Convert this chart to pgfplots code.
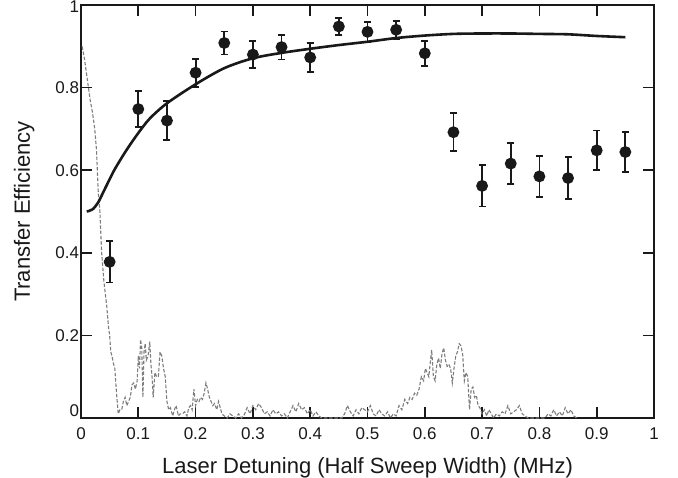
\documentclass[border=0pt]{standalone}
\usepackage{pgfplots}
\pgfplotsset{compat=1.18}
\usepackage{fontspec}
\setmainfont{Liberation Sans}
\definecolor{dashgray}{RGB}{125,125,125}
\definecolor{ink}{RGB}{25,25,25}
\begin{document}
\begin{tikzpicture}[x=1pt,y=1pt]
\path[use as bounding box] (-81,-60) rectangle (597,418);
\begin{axis}[
  at={(0,0)}, anchor=south west,
  scale only axis, width=573pt, height=413pt,
  xmin=0, xmax=1, ymin=0, ymax=1,
  xtick={0,0.1,...,1}, ytick={0,0.2,...,1},
  xticklabels={0,0.1,0.2,0.3,0.4,0.5,0.6,0.7,0.8,0.9,1},
  yticklabels={{\raisebox{7pt}[\height][0pt]{0}},0.2,0.4,0.6,0.8,{\raisebox{-2pt}[\height][0pt]{1}}},
  tick align=inside, major tick length=11pt,
  tick style={line width=1.6pt, color=ink},
  axis line style={line width=1.8pt, color=ink},
  /pgf/number format/assume math mode=true,
  ticklabel style={font=\fontsize{17}{17}\selectfont, text=ink},
  xticklabel style={yshift=-6pt},
  yticklabel style={xshift=1.5pt},
  xlabel={Laser Detuning (Half Sweep Width) (MHz)},
  ylabel={Transfer Efficiency},
  label style={font=\fontsize{22}{22}\selectfont, text=ink},
  xlabel style={yshift=-11pt},
  ylabel style={yshift=14pt},
  clip=false,
]
\addplot[dashgray, line width=1.1pt, dash pattern=on 3.5pt off 1.8pt] coordinates {
(0.002,0.90)(0.006,0.87)(0.010,0.83)(0.013,0.80)(0.016,0.77)(0.020,0.74)(0.024,0.70)(0.027,0.65)
(0.030,0.55)(0.033,0.50)(0.036,0.40)(0.040,0.33)(0.045,0.27)(0.048,0.22)(0.050,0.20)(0.052,0.16)
(0.054,0.15)(0.057,0.13)(0.059,0.12)(0.062,0.06)(0.065,0.01)(0.068,0.02)(0.071,0.02)(0.074,0.04)
(0.077,0.05)(0.080,0.03)(0.083,0.04)(0.086,0.05)(0.089,0.08)(0.092,0.085)(0.095,0.07)(0.098,0.09)
(0.100,0.15)(0.102,0.12)(0.104,0.19)(0.106,0.17)(0.108,0.05)(0.110,0.16)(0.112,0.18)(0.114,0.14)
(0.117,0.15)(0.120,0.185)(0.122,0.13)(0.124,0.10)(0.126,0.05)(0.129,0.11)(0.132,0.10)(0.135,0.10)
(0.138,0.16)(0.141,0.15)(0.144,0.12)(0.147,0.10)(0.150,0.04)(0.153,0.02)(0.156,0.025)(0.160,0.005)
(0.163,0.02)(0.166,0.03)(0.170,0.005)(0.173,0.01)(0.177,0.01)(0.181,0.015)(0.185,0.005)(0.188,0.025)
(0.191,0.03)(0.194,0.02)(0.197,0.07)(0.200,0.03)(0.203,0.045)(0.206,0.04)(0.209,0.05)(0.212,0.045)
(0.215,0.06)(0.218,0.085)(0.221,0.07)(0.224,0.05)(0.227,0.04)(0.230,0.03)(0.233,0.035)(0.237,0.02)
(0.240,0.04)(0.243,0.025)(0.246,0.01)(0.250,0.005)(0.255,0.0)(0.26,0.01)(0.265,0.005)(0.27,0.0)
(0.275,0.01)(0.28,0.0)(0.285,0.008)(0.29,0.025)(0.295,0.01)(0.30,0.03)(0.305,0.02)(0.31,0.035)
(0.315,0.025)(0.32,0.01)(0.325,0.015)(0.33,0.005)(0.335,0.02)(0.34,0.01)(0.345,0.015)(0.35,0.005)
(0.355,0.01)(0.36,0.0)(0.365,0.015)(0.37,0.03)(0.375,0.015)(0.38,0.035)(0.385,0.02)(0.39,0.025)
(0.395,0.01)(0.40,0.02)(0.405,0.005)(0.41,0.015)(0.415,0.005)(0.42,0.0)(0.455,0.0)(0.46,0.01)
(0.465,0.03)(0.47,0.015)(0.475,0.005)(0.48,0.02)(0.485,0.01)(0.49,0.025)(0.495,0.02)(0.50,0.015)
(0.505,0.03)(0.51,0.01)(0.515,0.005)(0.52,0.02)(0.525,0.01)(0.53,0.005)(0.535,0.015)(0.54,0.0)
(0.545,0.01)(0.55,0.005)(0.555,0.03)(0.56,0.02)(0.565,0.045)(0.57,0.035)(0.574,0.05)(0.578,0.045)
(0.582,0.06)(0.586,0.055)(0.59,0.07)(0.594,0.10)(0.598,0.09)(0.601,0.12)(0.604,0.11)(0.607,0.10)
(0.610,0.14)(0.612,0.165)(0.615,0.10)(0.618,0.09)(0.621,0.13)(0.624,0.145)(0.627,0.12)(0.630,0.155)
(0.633,0.17)(0.636,0.14)(0.639,0.125)(0.642,0.13)(0.645,0.12)(0.648,0.085)(0.651,0.12)(0.654,0.15)
(0.657,0.16)(0.660,0.18)(0.663,0.175)(0.666,0.155)(0.669,0.09)(0.672,0.11)(0.675,0.10)(0.678,0.02)
(0.681,0.07)(0.684,0.075)(0.687,0.05)(0.690,0.055)(0.693,0.03)(0.696,0.025)(0.700,0.01)(0.704,0.02)
(0.708,0.005)(0.712,0.02)(0.716,0.01)(0.72,0.0)(0.725,0.01)(0.73,0.005)(0.735,0.015)(0.74,0.01)
(0.745,0.03)(0.75,0.01)(0.755,0.015)(0.76,0.02)(0.765,0.03)(0.77,0.01)(0.775,0.005)(0.78,0.0)
(0.81,0.0)(0.815,0.01)(0.82,0.005)(0.825,0.02)(0.83,0.005)(0.835,0.015)(0.84,0.005)(0.845,0.025)
(0.85,0.01)(0.855,0.02)(0.86,0.005)(0.865,0.0)
};
\addplot[ink, line width=2.6pt, smooth] coordinates {
(0.01,0.500)(0.02,0.505)(0.03,0.522)(0.04,0.550)(0.05,0.578)(0.06,0.605)(0.08,0.650)(0.10,0.690)
(0.12,0.725)(0.15,0.762)(0.20,0.808)(0.25,0.847)(0.30,0.871)(0.35,0.884)(0.40,0.894)(0.45,0.903)
(0.50,0.911)(0.55,0.920)(0.60,0.926)(0.65,0.930)(0.70,0.931)(0.75,0.931)(0.80,0.930)(0.85,0.929)
(0.90,0.925)(0.95,0.922)
};
\addplot[ink, only marks, mark=*, mark size=5pt, line width=1.8pt,
  error bars/.cd, y dir=both, y explicit,
  error bar style={line width=1.8pt, color=ink},
  error mark options={rotate=90, mark size=3.5pt, line width=1.8pt, color=ink}]
coordinates {
(0.05,0.378) +- (0,0.050)
(0.10,0.748) +- (0,0.043)
(0.15,0.720) +- (0,0.047)
(0.20,0.836) +- (0,0.034)
(0.25,0.908) +- (0,0.028)
(0.30,0.880) +- (0,0.033)
(0.35,0.898) +- (0,0.030)
(0.40,0.873) +- (0,0.035)
(0.45,0.948) +- (0,0.021)
(0.50,0.935) +- (0,0.024)
(0.55,0.940) +- (0,0.022)
(0.60,0.883) +- (0,0.030)
(0.65,0.692) +- (0,0.046)
(0.70,0.562) +- (0,0.050)
(0.75,0.616) +- (0,0.050)
(0.80,0.585) +- (0,0.050)
(0.85,0.581) +- (0,0.050)
(0.90,0.648) +- (0,0.048)
(0.95,0.644) +- (0,0.049)
};
\end{axis}
\end{tikzpicture}
\end{document}
